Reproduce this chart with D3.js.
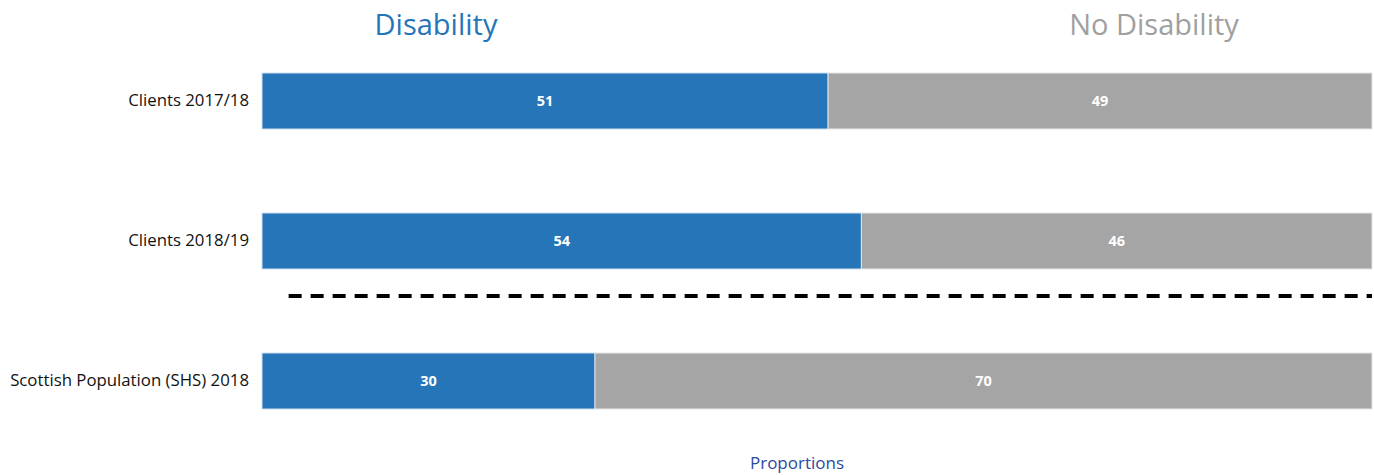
<!DOCTYPE html>
<html><head><meta charset="utf-8">
<script src="https://cdn.jsdelivr.net/npm/d3@7"></script>
<style>body{margin:0;background:#fff;} svg{display:block;font-family:"Open Sans",sans-serif;}</style>
</head><body>
<script>
const categories = ["Clients 2017/18", "Clients 2018/19", "Scottish Population (SHS) 2018"];
const seriesNames = ["Disability", "No Disability"];
const disability = [51, 54, 30];
const noDisability = [49, 46, 70];
const colors = ["#2575b8", "#a5a5a5"];
const xTitle = "Proportions";

const W = 1374, H = 475;
const svg = d3.select("body").append("svg").attr("width", W).attr("height", H);

const x = d3.scaleLinear().domain([0, 100]).range([262, 1372]);
const y = d3.scaleBand().domain(categories).range([31, 451]).paddingInner(0.6).paddingOuter(0.3);

const stackData = categories.map((c, i) => ({cat: c, Disability: disability[i], "No Disability": noDisability[i]}));
const stack = d3.stack().keys(seriesNames)(stackData);

const g = svg.append("g");
stack.forEach((layer, li) => {
  const lg = g.append("g");
  lg.selectAll("rect").data(layer).join("rect")
    .attr("x", d => x(d[0]))
    .attr("y", d => y(d.data.cat))
    .attr("width", d => x(d[1]) - x(d[0]))
    .attr("height", y.bandwidth())
    .attr("fill", colors[li])
    .attr("stroke", li === 0 ? "#cfe0f0" : "#e6e6e6")
    .attr("stroke-width", 1);
  lg.selectAll("text").data(layer).join("text")
    .attr("x", d => (x(d[0]) + x(d[1])) / 2)
    .attr("y", d => y(d.data.cat) + y.bandwidth() / 2)
    .attr("dy", "0.36em")
    .attr("text-anchor", "middle")
    .attr("fill", "#fff")
    .attr("font-weight", "bold")
    .attr("font-size", 14.5)
    .text(d => d[1] - d[0]);
});

// category axis labels
const yAxis = d3.axisLeft(y).tickSize(0).tickPadding(13);
const ya = svg.append("g").attr("transform", `translate(${x(0)},0)`).call(yAxis);
ya.select(".domain").remove();
ya.selectAll("text").attr("font-size", 16.8).attr("fill", "#111").attr("font-family", "'Open Sans',sans-serif");

// dashed separator between client rows and population row
const sepY = y(categories[1]) + y.bandwidth() + (y(categories[2]) - y(categories[1]) - y.bandwidth()) * 0.32;
svg.append("line")
  .attr("x1", x(2.4)).attr("x2", x(100))
  .attr("y1", sepY).attr("y2", sepY)
  .attr("stroke", "#000").attr("stroke-width", 4)
  .attr("stroke-dasharray", "13,9");

// series titles
svg.append("text").attr("x", 436).attr("y", 35).attr("text-anchor", "middle")
  .attr("font-size", 29).attr("fill", colors[0]).text(seriesNames[0]);
svg.append("text").attr("x", 1154).attr("y", 35).attr("text-anchor", "middle")
  .attr("font-size", 29).attr("fill", "#a0a0a0").text(seriesNames[1]);

// x title
svg.append("text").attr("x", 797).attr("y", 469).attr("text-anchor", "middle")
  .attr("font-size", 17).attr("fill", "#2b4a9e").text(xTitle);
</script>
</body></html>
